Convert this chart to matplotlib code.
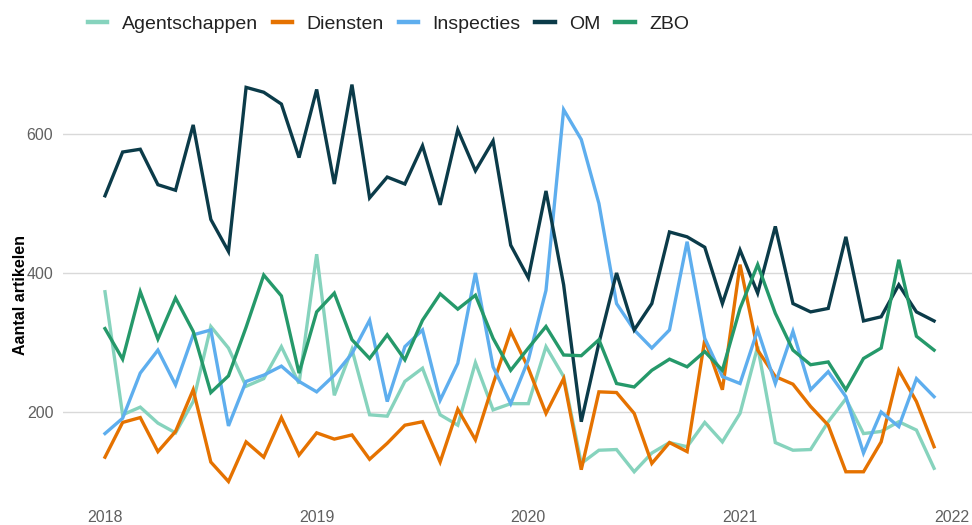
import numpy as np
import matplotlib
matplotlib.use("Agg")
import matplotlib.pyplot as plt

# monthly values, Jan 2018 .. Dec 2021
agentschappen = [373, 196, 207, 184, 170, 215, 323, 292, 237, 248, 294, 241,
                 427, 224, 290, 196, 194, 244, 263, 196, 181, 271, 203, 212,
                 212, 294, 251, 126, 145, 146, 114, 141, 156, 150, 185, 157,
                 198, 294, 156, 145, 146, 186, 219, 169, 172, 186, 174, 119]
diensten = [135, 185, 192, 143, 172, 232, 128, 100, 157, 135, 192, 138,
            170, 161, 167, 132, 155, 181, 186, 128, 204, 160, 240, 316,
            263, 198, 248, 117, 229, 228, 198, 126, 156, 143, 304, 232,
            412, 289, 251, 240, 208, 181, 114, 114, 157, 260, 215, 150]
inspecties = [169, 191, 256, 289, 239, 311, 318, 180, 244, 253, 266, 244,
              229, 253, 284, 332, 215, 294, 318, 217, 270, 400, 265, 212,
              275, 375, 635, 592, 500, 356, 318, 292, 318, 445, 306, 251,
              241, 318, 241, 316, 232, 258, 222, 141, 200, 179, 248, 222]
om = [511, 574, 578, 527, 519, 613, 477, 431, 667, 660, 643, 566,
      664, 528, 671, 508, 538, 528, 583, 498, 606, 547, 590, 440,
      393, 518, 383, 186, 299, 400, 318, 356, 459, 452, 437, 356,
      433, 371, 467, 356, 344, 349, 452, 331, 337, 383, 344, 331]
zbo = [320, 276, 373, 305, 364, 316, 228, 252, 322, 397, 367, 256,
       344, 371, 304, 277, 311, 275, 332, 370, 348, 368, 306, 260,
       292, 323, 282, 281, 304, 241, 236, 260, 276, 265, 287, 260,
       349, 412, 342, 289, 268, 272, 232, 277, 292, 419, 309, 289]

series = ["Agentschappen", "Diensten", "Inspecties", "OM", "ZBO"]
colors = ["#86d3bd", "#e57200", "#5eaeee", "#0b3b49", "#25996a"]
years = ["2018", "2019", "2020", "2021", "2022"]

plt.rcParams['font.family'] = ['Liberation Sans', 'DejaVu Sans']

fig = plt.figure(figsize=(9.72, 5.25), dpi=100)
ax = fig.add_axes([63 / 972, 25 / 525, 909 / 972, 430 / 525])

months = np.arange(len(om))
for name, vals, c in zip(series, [agentschappen, diensten, inspecties, om, zbo], colors):
    ax.plot(months, vals, color=c, lw=2.4, label=name, solid_joinstyle="miter")

ax.set_xlim(-2.38, 49.15)
ax.set_ylim(73.4, 692)
ax.set_yticks([200, 400, 600])
ax.set_xticks([0, 12, 24, 36, 48])
ax.set_xticklabels(years)
ax.grid(axis="y", color="#d9d9d9", lw=1)
ax.set_axisbelow(True)
for s in ax.spines.values():
    s.set_visible(False)
ax.tick_params(axis="both", length=0, colors="#606060", labelsize=11.5)
ax.tick_params(axis="y", pad=7)
ax.tick_params(axis="x", pad=7)
ax.set_ylabel("Aantal artikelen", fontsize=11.5, fontweight="bold")
ax.yaxis.set_label_coords(-0.039, 0.477)

leg = ax.legend(loc="center left", bbox_to_anchor=(0.019, 1.107), ncol=5, frameon=False,
                fontsize=14, handlelength=1.0, handletextpad=0.75, columnspacing=0.75,
                borderaxespad=0)
for h in leg.get_lines():
    h.set_linewidth(3.2)
for t in leg.get_texts():
    t.set_color("#222222")

plt.savefig("out.png", dpi=100)
